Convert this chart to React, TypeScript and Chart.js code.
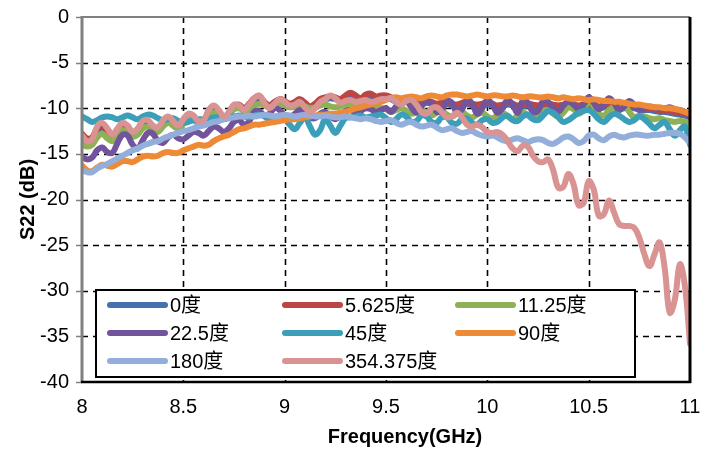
import React, { useEffect, useRef } from "react";
import { Chart, registerables } from "chart.js";

Chart.register(...registerables);

// Frequency grid (GHz)
const FREQ = [
  8, 8.025, 8.05, 8.075, 8.1, 8.125, 8.15, 8.175, 8.2, 8.225,
  8.25, 8.275, 8.3, 8.325, 8.35, 8.375, 8.4, 8.425, 8.45, 8.475,
  8.5, 8.525, 8.55, 8.575, 8.6, 8.625, 8.65, 8.675, 8.7, 8.725,
  8.75, 8.775, 8.8, 8.825, 8.85, 8.875, 8.9, 8.925, 8.95, 8.975,
  9, 9.025, 9.05, 9.075, 9.1, 9.125, 9.15, 9.175, 9.2, 9.225,
  9.25, 9.275, 9.3, 9.325, 9.35, 9.375, 9.4, 9.425, 9.45, 9.475,
  9.5, 9.525, 9.55, 9.575, 9.6, 9.625, 9.65, 9.675, 9.7, 9.725,
  9.75, 9.775, 9.8, 9.825, 9.85, 9.875, 9.9, 9.925, 9.95, 9.975,
  10, 10.025, 10.05, 10.075, 10.1, 10.125, 10.15, 10.175, 10.2, 10.225,
  10.25, 10.275, 10.3, 10.325, 10.35, 10.375, 10.4, 10.425, 10.45, 10.475,
  10.5, 10.525, 10.55, 10.575, 10.6, 10.625, 10.65, 10.675, 10.7, 10.725,
  10.75, 10.775, 10.8, 10.825, 10.85, 10.875, 10.9, 10.925, 10.95, 10.975,
  11,
];

const S_0 = [
  -13.0, -13.5, -13.4, -12.5, -12.1, -12.6, -13.2, -12.7, -12.1, -12.4,
  -12.9, -12.6, -11.9, -11.8, -12.3, -12.5, -11.8, -11.4, -11.9, -12.2,
  -11.6, -11.1, -11.2, -11.7, -11.6, -10.7, -10.2, -10.6, -11.2, -10.8,
  -10.0, -9.8, -10.2, -9.7, -9.1, -9.0, -9.5, -9.9, -9.5, -9.2,
  -9.4, -9.7, -9.5, -9.2, -9.6, -10.0, -9.7, -9.2, -9.0, -8.9,
  -9.0, -9.2, -8.8, -8.6, -8.8, -9.1, -8.8, -8.7, -8.9, -8.8,
  -8.9, -9.0, -9.3, -9.4, -9.2, -9.3, -9.5, -9.6, -9.4, -9.5,
  -9.7, -9.6, -9.5, -9.7, -9.8, -9.6, -9.5, -9.7, -9.8, -9.7,
  -9.6, -9.7, -9.9, -9.8, -9.6, -9.7, -9.9, -9.8, -9.7, -9.8,
  -9.9, -9.8, -9.7, -9.8, -9.9, -9.8, -9.7, -9.8, -9.9, -9.8,
  -9.7, -9.8, -10.0, -9.9, -9.8, -9.9, -10.0, -10.0, -9.9, -10.0,
  -10.1, -10.2, -10.2, -10.3, -10.4, -10.4, -10.5, -10.6, -10.7, -10.8,
  -11.0,
];

const S_5_625 = [
  -12.8, -13.3, -13.2, -12.2, -11.9, -12.5, -13.0, -12.5, -11.9, -12.2,
  -12.8, -12.4, -11.7, -11.6, -12.2, -12.3, -11.6, -11.2, -11.7, -12.0,
  -11.4, -10.9, -11.0, -11.5, -11.4, -10.5, -10.0, -10.4, -11.0, -10.6,
  -9.8, -9.6, -10.0, -9.5, -8.9, -8.7, -9.3, -9.7, -9.3, -9.0,
  -9.2, -9.5, -9.3, -9.0, -9.4, -9.8, -9.5, -9.0, -8.8, -8.7,
  -8.8, -9.0, -8.6, -8.3, -8.6, -8.9, -8.5, -8.4, -8.7, -8.6,
  -8.6, -8.8, -9.1, -9.2, -9.0, -9.1, -9.3, -9.4, -9.2, -9.3,
  -9.5, -9.4, -9.3, -9.5, -9.6, -9.4, -9.3, -9.5, -9.6, -9.5,
  -9.4, -9.5, -9.7, -9.6, -9.4, -9.5, -9.7, -9.6, -9.5, -9.6,
  -9.7, -9.6, -9.5, -9.6, -9.7, -9.6, -9.5, -9.6, -9.7, -9.6,
  -9.5, -9.6, -9.8, -9.7, -9.6, -9.7, -9.8, -9.8, -9.7, -9.8,
  -9.9, -10.0, -10.0, -10.1, -10.2, -10.2, -10.3, -10.4, -10.5, -10.6,
  -10.8,
];

const S_11_25 = [
  -13.9, -14.2, -14.0, -13.2, -12.8, -13.3, -13.6, -13.0, -12.4, -12.6,
  -13.1, -12.9, -12.2, -12.0, -12.4, -12.6, -12.0, -11.6, -11.9, -12.2,
  -11.7, -11.2, -11.3, -11.6, -11.4, -10.8, -10.5, -10.8, -11.0, -10.6,
  -10.1, -10.0, -10.3, -10.2, -9.7, -9.5, -9.7, -9.9, -9.6, -9.5,
  -9.7, -9.9, -9.8, -9.6, -9.8, -10.0, -9.9, -9.7, -9.6, -9.8,
  -9.9, -9.8, -9.6, -9.7, -9.9, -9.8, -9.7, -9.8, -9.9, -10.0,
  -10.1, -10.4, -10.2, -10.0, -10.3, -10.6, -10.4, -10.2, -10.5, -10.8,
  -10.5, -10.3, -10.7, -10.9, -10.6, -10.4, -10.8, -11.0, -10.7, -10.5,
  -10.9, -11.1, -10.8, -10.5, -10.9, -11.2, -10.8, -10.4, -10.8, -11.1,
  -10.8, -10.3, -10.2, -10.6, -10.9, -10.5, -9.9, -10.1, -10.6, -10.2,
  -9.2, -9.8, -10.6, -10.8, -10.2, -9.9, -10.2, -9.7, -10.4, -11.0,
  -10.8, -10.9, -11.1, -11.2, -11.1, -11.3, -11.4, -11.5, -11.4, -11.5,
  -11.8,
];

const S_22_5 = [
  -15.3, -15.6, -15.4, -14.6, -14.3, -14.8, -14.9, -13.8, -12.9, -13.0,
  -14.0, -14.4, -13.5, -12.7, -12.8, -13.6, -13.8, -13.2, -12.9, -13.3,
  -13.4, -13.0, -12.6, -12.7, -13.0, -12.5, -12.0, -12.2, -12.6, -12.2,
  -11.5, -11.3, -11.8, -11.4, -10.4, -10.3, -10.8, -10.6, -10.0, -10.2,
  -10.8, -11.1, -10.6, -10.2, -10.5, -11.0, -11.1, -10.6, -10.4, -10.9,
  -11.2, -10.8, -10.3, -10.2, -10.5, -10.3, -10.0, -10.1, -10.4, -10.2,
  -10.0, -10.4, -9.8, -9.3, -9.2, -9.9, -10.5, -9.8, -9.1, -9.5,
  -10.4, -10.2, -9.2, -9.4, -10.5, -10.1, -9.1, -9.5, -10.6, -10.0,
  -9.1, -9.6, -10.5, -10.0, -9.1, -9.6, -10.5, -9.2, -9.4, -10.4,
  -10.3, -9.2, -9.3, -10.0, -10.4, -9.7, -9.3, -9.6, -10.1, -9.6,
  -8.8, -9.4, -10.1, -9.6, -8.9, -9.4, -10.2, -9.8, -9.2, -9.6,
  -10.2, -10.0, -9.8, -9.9, -10.0, -10.0, -9.9, -10.1, -10.2, -10.4,
  -10.9,
];

const S_45 = [
  -10.9, -11.2, -11.5, -11.3, -11.0, -10.9, -11.0, -11.2, -11.0, -10.8,
  -11.0, -11.2, -10.9, -10.7, -10.8, -11.1, -11.3, -11.2, -11.1, -11.4,
  -11.6, -11.5, -11.3, -11.2, -11.2, -11.1, -11.0, -11.0, -11.1, -11.0,
  -10.9, -10.8, -10.9, -11.0, -10.8, -10.7, -10.9, -11.2, -11.0, -10.9,
  -11.2, -11.8, -12.3, -11.6, -11.0, -12.0, -12.9, -12.4, -11.2, -11.9,
  -12.7, -11.9, -11.1, -11.0, -10.9, -10.8, -11.0, -10.9, -10.8, -10.7,
  -11.1, -11.5, -11.2, -10.7, -10.9, -11.5, -11.4, -10.8, -10.9, -11.5,
  -11.6, -11.0, -11.0, -11.6, -11.7, -11.2, -11.1, -11.6, -11.8, -11.3,
  -11.2, -11.6, -11.5, -11.0, -10.8, -11.3, -11.4, -10.9, -10.7, -11.2,
  -11.3, -10.8, -10.3, -10.5, -11.0, -11.5, -11.3, -10.9, -10.5, -10.3,
  -10.2, -10.6, -11.2, -11.5, -11.0, -10.6, -10.8, -11.2, -11.5, -11.3,
  -10.9, -11.2, -11.7, -12.2, -11.8, -11.5, -12.3, -13.0, -12.4, -12.0,
  -14.0,
];

const S_90 = [
  -16.3, -16.8, -16.9, -16.5, -16.2, -16.3, -16.4, -16.1, -15.8, -15.8,
  -15.9, -15.6, -15.3, -15.2, -15.3, -15.2, -14.9, -14.8, -14.9, -14.9,
  -14.6, -14.4, -14.2, -14.0, -14.1, -14.0, -13.6, -13.3, -13.1, -12.9,
  -12.6, -12.3, -12.2, -12.0, -11.8, -11.8, -11.7, -11.6, -11.5, -11.4,
  -11.3, -11.2, -11.2, -11.1, -11.0, -10.9, -10.8, -10.7, -10.7, -10.6,
  -10.6, -10.5, -10.4, -10.2, -10.0, -9.9, -9.7, -9.6, -9.4, -9.3,
  -9.1, -8.9, -8.8, -8.9, -8.8, -8.7, -8.8, -8.9, -8.7, -8.6,
  -8.7, -8.8, -8.6, -8.5, -8.5, -8.6, -8.7, -8.6, -8.5, -8.6,
  -8.7, -8.6, -8.6, -8.7, -8.7, -8.6, -8.7, -8.8, -8.7, -8.7,
  -8.8, -8.8, -8.7, -8.8, -8.9, -8.8, -8.9, -9.0, -8.9, -9.0,
  -9.1, -9.0, -9.1, -9.2, -9.2, -9.3, -9.3, -9.4, -9.5, -9.6,
  -9.6, -9.7, -9.8, -9.9, -9.9, -10.0, -10.0, -10.1, -10.2, -10.4,
  -10.6,
];

const S_180 = [
  -16.8, -17.0, -17.0, -16.6, -16.3, -16.1, -15.8, -15.5, -15.2, -14.9,
  -14.6, -14.4, -14.1, -13.9, -13.7, -13.6, -13.3, -13.1, -12.9, -12.7,
  -12.5, -12.4, -12.2, -12.0, -11.9, -11.7, -11.5, -11.4, -11.2, -11.1,
  -11.0, -10.9, -10.9, -10.8, -10.9, -10.8, -10.7, -10.8, -10.9, -10.8,
  -10.7, -10.8, -10.9, -10.8, -10.7, -10.8, -10.9, -10.9, -10.8, -10.9,
  -11.0, -11.0, -10.9, -11.0, -11.1, -11.2, -11.1, -11.2, -11.4, -11.5,
  -11.4, -11.3, -11.6, -11.8, -11.6, -11.5, -11.8, -12.0, -11.9, -11.8,
  -12.1, -12.4, -12.3, -12.2, -12.5, -12.7, -12.6, -12.5, -12.8, -13.0,
  -13.1, -13.0, -13.2, -13.5, -13.6, -13.4, -13.3, -13.5, -13.7, -13.5,
  -13.4, -13.5, -13.8, -13.9, -13.6, -13.2, -13.1, -13.4, -13.8, -13.6,
  -13.0, -12.9, -13.3, -13.5, -13.1, -12.9, -13.1, -13.2, -13.0, -12.9,
  -12.9, -13.0, -13.0, -12.9, -12.9, -12.8, -12.7, -12.7, -12.8, -13.2,
  -13.8,
];

const S_354_375 = [
  -13.0, -13.6, -13.4, -12.0, -11.6, -12.2, -12.9, -12.2, -11.6, -11.9,
  -12.6, -12.2, -11.4, -11.3, -11.9, -12.1, -11.3, -10.9, -11.4, -11.9,
  -11.2, -10.6, -10.8, -11.4, -11.3, -10.2, -9.7, -10.2, -10.9, -10.4,
  -9.6, -9.7, -10.2, -9.6, -8.9, -8.6, -9.4, -10.0, -9.5, -9.0,
  -9.3, -9.7, -9.6, -9.3, -9.9, -10.4, -10.0, -9.3, -9.0, -8.6,
  -8.9, -9.4, -9.2, -9.1, -9.3, -9.2, -9.1, -9.3, -9.2, -9.0,
  -9.0, -8.9, -9.3, -9.6, -9.2, -9.1, -9.6, -10.4, -10.6, -10.0,
  -9.9, -10.4, -11.0, -10.9, -10.5, -11.0, -11.8, -12.0, -11.8, -12.1,
  -12.6, -12.7, -12.6, -12.9, -13.6, -14.4, -14.7, -14.1, -14.2, -15.2,
  -15.8, -15.9, -15.6, -16.8, -18.7, -18.6, -17.2, -18.3, -20.6, -20.4,
  -18.0, -18.9, -21.8, -21.6, -20.1, -21.4, -22.7, -22.9, -22.9, -23.1,
  -24.2, -26.0, -27.3, -26.0, -24.7, -27.5, -32.4, -31.0, -27.1, -29.5,
  -35.8,
];

const SERIES_NAMES = ["0度", "5.625度", "11.25度", "22.5度", "45度", "90度", "180度", "354.375度"];
const SERIES_VALUES = [S_0, S_5_625, S_11_25, S_22_5, S_45, S_90, S_180, S_354_375];
const SERIES_COLORS = ["#4371ab", "#bb4643", "#8eb155", "#71549b", "#3b9fba", "#ee8936", "#93aedb", "#d99392"];
const Y_TICKS = [0, -5, -10, -15, -20, -25, -30, -35, -40];
const X_TICKS = [8, 8.5, 9, 9.5, 10, 10.5, 11];

const X_TITLE = "Frequency(GHz)";
const Y_TITLE = "S22 (dB)";

const FONT = "'Liberation Sans', Arial, 'Noto Sans CJK SC', sans-serif";

const decorPlugin = {
  id: "decor",
  beforeDatasetsDraw(chart: any) {
    const { ctx, chartArea: a, scales } = chart;
    const xs = scales.x;
    const ys = scales.y;
    ctx.save();
    ctx.strokeStyle = "#000";
    ctx.lineWidth = 1.6;
    ctx.setLineDash([6, 5]);
    X_TICKS.forEach((v) => {
      if (v === X_TICKS[0] || v === X_TICKS[X_TICKS.length - 1]) return;
      const px = Math.round(xs.getPixelForValue(v)) + 0.5;
      ctx.beginPath();
      ctx.moveTo(px, a.top);
      ctx.lineTo(px, a.bottom);
      ctx.stroke();
    });
    Y_TICKS.forEach((v) => {
      if (v === 0 || v === -40) return;
      const py = Math.round(ys.getPixelForValue(v)) + 0.5;
      ctx.beginPath();
      ctx.moveTo(a.left, py);
      ctx.lineTo(a.right, py);
      ctx.stroke();
    });
    ctx.restore();
  },
  afterDraw(chart: any) {
    const { ctx, chartArea: a, scales } = chart;
    const ys = scales.y;
    ctx.save();
    ctx.setLineDash([]);
    // frame
    ctx.lineCap = "butt";
    ctx.strokeStyle = "#808080";
    ctx.lineWidth = 2;
    ctx.beginPath();
    ctx.moveTo(a.left, a.top);
    ctx.lineTo(a.right, a.top);
    ctx.stroke();
    ctx.lineWidth = 3;
    ctx.beginPath();
    ctx.moveTo(a.left, a.top - 1);
    ctx.lineTo(a.left, a.bottom);
    ctx.stroke();
    ctx.lineWidth = 1.5;
    Y_TICKS.forEach((v) => {
      const py = Math.round(ys.getPixelForValue(v)) + 0.5;
      ctx.beginPath();
      ctx.moveTo(a.left - 6, py);
      ctx.lineTo(a.left, py);
      ctx.stroke();
    });
    ctx.strokeStyle = "#000";
    ctx.lineWidth = 3;
    ctx.beginPath();
    ctx.moveTo(a.right, a.top);
    ctx.lineTo(a.right, a.bottom + 1);
    ctx.stroke();
    ctx.lineWidth = 2.5;
    ctx.beginPath();
    ctx.moveTo(a.left - 1, a.bottom);
    ctx.lineTo(a.right + 1, a.bottom);
    ctx.stroke();

    // legend box
    const bx = a.left + 14;
    const by = a.top + 273;
    const bw = 539;
    const bh = 87;
    ctx.fillStyle = "#fff";
    ctx.fillRect(bx, by, bw, bh);
    ctx.strokeStyle = "#000";
    ctx.lineWidth = 2;
    ctx.strokeRect(bx, by, bw, bh);
    const colX = [bx + 14, bx + 189, bx + 362];
    const rowY = [by + 15, by + 43, by + 71];
    ctx.font = `20px ${FONT}`;
    ctx.textBaseline = "middle";
    ctx.textAlign = "left";
    SERIES_NAMES.forEach((name, i) => {
      const cx = colX[i % 3];
      const cy = rowY[Math.floor(i / 3)];
      ctx.strokeStyle = SERIES_COLORS[i];
      ctx.lineWidth = 6;
      ctx.lineCap = "round";
      ctx.beginPath();
      ctx.moveTo(cx, cy);
      ctx.lineTo(cx + 55, cy);
      ctx.stroke();
      ctx.fillStyle = "#000";
      ctx.fillText(name, cx + 60, cy + 1);
    });

    // axis titles
    ctx.fillStyle = "#000";
    ctx.font = `bold 20px ${FONT}`;
    ctx.textAlign = "center";
    ctx.textBaseline = "middle";
    ctx.fillText(X_TITLE, 405, 437);
    ctx.save();
    ctx.translate(28, (a.top + a.bottom) / 2);
    ctx.rotate(-Math.PI / 2);
    ctx.fillText(Y_TITLE, 0, 0);
    ctx.restore();
    ctx.restore();
  },
};

export default function App() {
  const canvasRef = useRef<HTMLCanvasElement | null>(null);

  useEffect(() => {
    const canvas = canvasRef.current;
    if (!canvas) return;
    const drawOrder = [7, 6, 5, 4, 3, 2, 1, 0];
    const datasets = SERIES_VALUES.map((vals, i) => ({
      label: SERIES_NAMES[i],
      data: FREQ.map((f, j) => ({ x: f, y: vals[j] })),
      borderColor: SERIES_COLORS[i],
      backgroundColor: SERIES_COLORS[i],
      borderWidth: 6,
      pointRadius: 0,
      tension: 0.4,
      borderCapStyle: "round" as const,
      borderJoinStyle: "round" as const,
      fill: false,
      order: drawOrder[i],
    }));
    const chart = new Chart(canvas, {
      type: "line",
      data: { datasets },
      options: {
        animation: false,
        responsive: true,
        maintainAspectRatio: false,
        layout: { padding: { left: 0, top: 17, right: 23, bottom: 0 } },
        plugins: { legend: { display: false }, tooltip: { enabled: false } },
        scales: {
          x: {
            type: "linear",
            min: 8,
            max: 11,
            afterBuildTicks: (s: any) => {
              s.ticks = X_TICKS.map((v) => ({ value: v }));
            },
            afterFit: (s: any) => {
              s.height = 71;
              s.paddingLeft = 0;
              s.paddingRight = 0;
            },
            ticks: {
              padding: 13,
              color: "#000",
              font: { family: FONT, size: 20 },
              maxRotation: 0,
              autoSkip: false,
              callback: (v: any) => String(v),
            },
            grid: { display: false, drawTicks: false },
            border: { display: false },
          },
          y: {
            type: "linear",
            min: -40,
            max: 0,
            afterBuildTicks: (s: any) => {
              s.ticks = Y_TICKS.slice().reverse().map((v) => ({ value: v }));
            },
            afterFit: (s: any) => {
              s.width = 82;
              s.paddingTop = 0;
              s.paddingBottom = 0;
            },
            ticks: {
              padding: 13,
              color: "#000",
              font: { family: FONT, size: 20 },
              autoSkip: false,
              callback: (v: any) => String(v),
            },
            grid: { display: false, drawTicks: false },
            border: { display: false },
          },
        },
      },
      plugins: [decorPlugin],
    });
    return () => chart.destroy();
  }, []);

  return (
    <div style={{ position: "fixed", left: 0, top: 0, width: 713, height: 453, background: "#fff" }}>
      <canvas ref={canvasRef} />
    </div>
  );
}
